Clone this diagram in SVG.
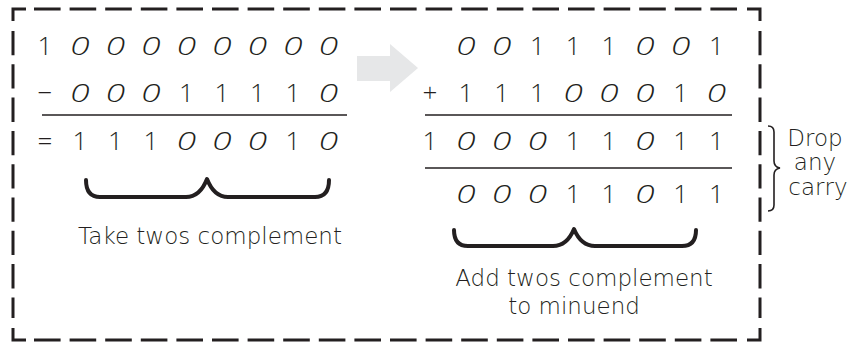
<svg xmlns="http://www.w3.org/2000/svg" width="855" height="354" viewBox="0 0 855 354">
<style>
.d{font-family:"Open Sans","Liberation Sans",sans-serif;font-weight:300;font-size:26px;fill:#231f20;text-anchor:middle}
.z{font-family:"Open Sans","Liberation Sans",sans-serif;font-weight:300;font-style:italic;font-size:26px;fill:#231f20;text-anchor:middle}
.h{font-family:"DejaVu Sans","Liberation Sans",sans-serif;font-weight:200;font-size:23px;fill:#231f20;text-anchor:middle}
.rule{stroke:#231f20;stroke-width:1.6;fill:none}
.brace{stroke:#231f20;stroke-width:4;fill:none;stroke-linecap:round;stroke-linejoin:round}
.frame{stroke:#231f20;stroke-width:3;fill:none}
</style>
<rect width="855" height="354" fill="#fff"/>
<g id="frame" class="frame">
<path d="M13,21 V9 H26"/>
<path d="M747,9 H760 V21"/>
<path d="M13,328 V340 H26"/>
<path d="M747,340 H760 V328"/>
<line x1="34" y1="9" x2="737" y2="9" stroke-dasharray="26.6 9"/>
<line x1="34" y1="340" x2="737" y2="340" stroke-dasharray="26.6 9"/>
<line x1="13" y1="31" x2="13" y2="318" stroke-dasharray="24.3 9"/>
<line x1="760" y1="31" x2="760" y2="318" stroke-dasharray="24.3 9"/>
</g>
<g id="arrow">
<path d="M357,56 H390 V44 L418,68 L390,92 V81 H357 Z" fill="#e6e7e8"/>
</g>
<g id="subtraction">
<text class="d" y="55"><tspan x="45">1</tspan></text>
<text class="z" transform="translate(80,55) scale(1.35,1)">0</text>
<text class="z" transform="translate(115.5,55) scale(1.35,1)">0</text>
<text class="z" transform="translate(151,55) scale(1.35,1)">0</text>
<text class="z" transform="translate(186.5,55) scale(1.35,1)">0</text>
<text class="z" transform="translate(222,55) scale(1.35,1)">0</text>
<text class="z" transform="translate(257.5,55) scale(1.35,1)">0</text>
<text class="z" transform="translate(293,55) scale(1.35,1)">0</text>
<text class="z" transform="translate(328.5,55) scale(1.35,1)">0</text>
<text class="d" y="102"><tspan x="45">−</tspan><tspan x="186.5">1</tspan><tspan x="222">1</tspan><tspan x="257.5">1</tspan><tspan x="293">1</tspan></text>
<text class="z" transform="translate(80,102) scale(1.35,1)">0</text>
<text class="z" transform="translate(115.5,102) scale(1.35,1)">0</text>
<text class="z" transform="translate(151,102) scale(1.35,1)">0</text>
<text class="z" transform="translate(328.5,102) scale(1.35,1)">0</text>
<line class="rule" x1="42" y1="115" x2="347" y2="115"/>
<text class="d" y="150"><tspan x="45">=</tspan><tspan x="80">1</tspan><tspan x="115.5">1</tspan><tspan x="151">1</tspan><tspan x="293">1</tspan></text>
<text class="z" transform="translate(186.5,150) scale(1.35,1)">0</text>
<text class="z" transform="translate(222,150) scale(1.35,1)">0</text>
<text class="z" transform="translate(257.5,150) scale(1.35,1)">0</text>
<text class="z" transform="translate(328.5,150) scale(1.35,1)">0</text>
</g>
<g id="addition">
<text class="d" y="55"><tspan x="537.4">1</tspan><tspan x="573.2">1</tspan><tspan x="609">1</tspan><tspan x="716.4">1</tspan></text>
<text class="z" transform="translate(465.8,55) scale(1.35,1)">0</text>
<text class="z" transform="translate(501.6,55) scale(1.35,1)">0</text>
<text class="z" transform="translate(644.8,55) scale(1.35,1)">0</text>
<text class="z" transform="translate(680.6,55) scale(1.35,1)">0</text>
<text class="d" y="102"><tspan x="430">+</tspan><tspan x="465.8">1</tspan><tspan x="501.6">1</tspan><tspan x="537.4">1</tspan><tspan x="680.6">1</tspan></text>
<text class="z" transform="translate(573.2,102) scale(1.35,1)">0</text>
<text class="z" transform="translate(609,102) scale(1.35,1)">0</text>
<text class="z" transform="translate(644.8,102) scale(1.35,1)">0</text>
<text class="z" transform="translate(716.4,102) scale(1.35,1)">0</text>
<line class="rule" x1="425" y1="115" x2="732" y2="115"/>
<text class="d" y="150"><tspan x="430">1</tspan><tspan x="573.2">1</tspan><tspan x="609">1</tspan><tspan x="680.6">1</tspan><tspan x="716.4">1</tspan></text>
<text class="z" transform="translate(465.8,150) scale(1.35,1)">0</text>
<text class="z" transform="translate(501.6,150) scale(1.35,1)">0</text>
<text class="z" transform="translate(537.4,150) scale(1.35,1)">0</text>
<text class="z" transform="translate(644.8,150) scale(1.35,1)">0</text>
<line class="rule" x1="425" y1="168" x2="732" y2="168"/>
<text class="d" y="203"><tspan x="573.2">1</tspan><tspan x="609">1</tspan><tspan x="680.6">1</tspan><tspan x="716.4">1</tspan></text>
<text class="z" transform="translate(465.8,203) scale(1.35,1)">0</text>
<text class="z" transform="translate(501.6,203) scale(1.35,1)">0</text>
<text class="z" transform="translate(537.4,203) scale(1.35,1)">0</text>
<text class="z" transform="translate(644.8,203) scale(1.35,1)">0</text>
</g>
<g id="brace-left">
<path class="brace" d="M86,180 Q86,197 100,197 L186,197 Q200,197 207,179 Q214,197 228,197 L315,197 Q329,197 329,180"/>
<text class="h" x="210" y="244">Take twos complement</text>
</g>
<g id="brace-right">
<path class="brace" d="M454,230 Q454,246 468,246 L553,246 Q567,246 574,229 Q581,246 595,246 L682,246 Q696,246 696,230"/>
<text class="h" x="584" y="286">Add twos complement</text>
<text class="h" x="574" y="314">to minuend</text>
</g>
<g id="drop-carry">
<path class="rule" d="M768,126 Q774,126 774,132 L774,161 Q774,167 780,168 Q774,169 774,175 L774,205 Q774,211 768,211"/>
<text class="h" x="815" y="146">Drop</text>
<text class="h" x="815" y="170">any</text>
<text class="h" x="818" y="195">carry</text>
</g>
</svg>
